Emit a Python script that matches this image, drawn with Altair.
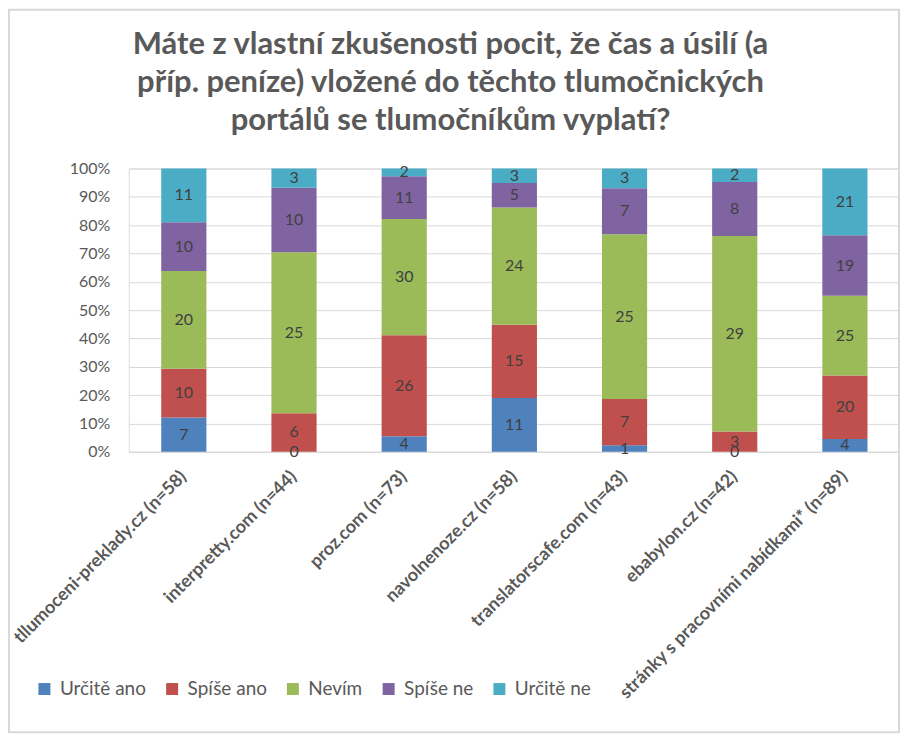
import altair as alt
import pandas as pd

categories = [
    "tllumoceni-preklady.cz (n=58)",
    "interpretty.com (n=44)",
    "proz.com (n=73)",
    "navolnenoze.cz (n=58)",
    "translatorscafe.com (n=43)",
    "ebabylon.cz (n=42)",
    "stránky s pracovními nabídkami* (n=89)",
]
series = ["Určitě ano", "Spíše ano", "Nevím", "Spíše ne", "Určitě ne"]
urcite_ano = [7, 0, 4, 11, 1, 0, 4]
spise_ano = [10, 6, 26, 15, 7, 3, 20]
nevim = [20, 25, 30, 24, 25, 29, 25]
spise_ne = [10, 10, 11, 5, 7, 8, 19]
urcite_ne = [11, 3, 2, 3, 3, 2, 21]
colors = ["#4F81BD", "#C0504D", "#9BBB59", "#8064A2", "#4BACC6"]
y_ticks = [0, 0.1, 0.2, 0.3, 0.4, 0.5, 0.6, 0.7, 0.8, 0.9, 1.0]
title_lines = [
    "Máte z vlastní zkušenosti pocit, že čas a úsilí (a",
    "příp. peníze) vložené do těchto tlumočnických",
    "portálů se tlumočníkům vyplatí?",
]

values_by_series = [urcite_ano, spise_ano, nevim, spise_ne, urcite_ne]
rows = []
for si, (s, vals) in enumerate(zip(series, values_by_series)):
    for c, v in zip(categories, vals):
        rows.append({"cat": c, "series": s, "order": si, "value": v})
df = pd.DataFrame(rows)

FONT = "Lato"
GRAY = "#595959"

base = alt.Chart(df).transform_stack(
    stack="value",
    groupby=["cat"],
    as_=["y0", "y1"],
    offset="normalize",
    sort=[alt.SortField("order", order="ascending")],
).transform_calculate(mid="(datum.y0 + datum.y1) / 2")

x_axis = alt.Axis(
    title=None,
    labelAngle=-45,
    labelAlign="right",
    labelBaseline="middle",
    labelFontWeight="bold",
    labelFontSize=18,
    labelColor=GRAY,
    labelFont=FONT,
    labelLimit=500,
    labelPadding=22,
    ticks=False,
    domainColor="#D9D9D9",
    domainWidth=1,
)
x_scale = alt.Scale(paddingInner=0.59, paddingOuter=0.295)

y_axis = alt.Axis(
    values=y_ticks,
    format=".0%",
    title=None,
    domain=False,
    ticks=False,
    gridColor="#D9D9D9",
    labelFontSize=16,
    labelColor=GRAY,
    labelFont=FONT,
    labelPadding=19,
    labelOverlap=False,
)
y_scale = alt.Scale(domain=[0, 1])

bars = base.mark_bar().encode(
    x=alt.X("cat:N", sort=categories, scale=x_scale, axis=x_axis),
    y=alt.Y("y0:Q", scale=y_scale, axis=y_axis),
    y2="y1:Q",
    color=alt.Color(
        "series:N",
        sort=series,
        scale=alt.Scale(domain=series, range=colors),
        legend=alt.Legend(
            orient="none",
            legendX=-94,
            legendY=512,
            direction="horizontal",
            title=None,
            symbolType="square",
            symbolSize=144,
            symbolStrokeWidth=0,
            labelFontSize=19,
            labelFont=FONT,
            labelColor=GRAY,
            columnPadding=16,
            labelOffset=6,
        ),
    ),
)

labels = base.mark_text(fontSize=16, font=FONT, color="#404040").encode(
    x=alt.X("cat:N", sort=categories, scale=x_scale, axis=x_axis),
    y=alt.Y("mid:Q", scale=y_scale, axis=y_axis),
    text=alt.Text("value:Q"),
)

frame = alt.Chart(alt.Data(values=[{"a": 1}])).mark_rect(
    fillOpacity=0, stroke="#D9D9D9", strokeWidth=2
).encode(
    x=alt.value(-120), x2=alt.value(772), y=alt.value(-159), y2=alt.value(565)
)

chart = alt.layer(frame, bars, labels).properties(
    width=773,
    height=284,
    padding={"left": 121, "top": 160, "right": 0, "bottom": 283},
    autosize=alt.AutoSizeParams(type="none"),
    title=alt.TitleParams(
        text=title_lines,
        fontSize=31,
        font=FONT,
        fontWeight="bold",
        color=GRAY,
        anchor="middle",
        dx=-64,
        offset=-128,
        lineHeight=38,
    ),
).configure_view(stroke=None).configure(font=FONT)

chart.save("out.html", embed_options={"renderer": "svg", "actions": False})
